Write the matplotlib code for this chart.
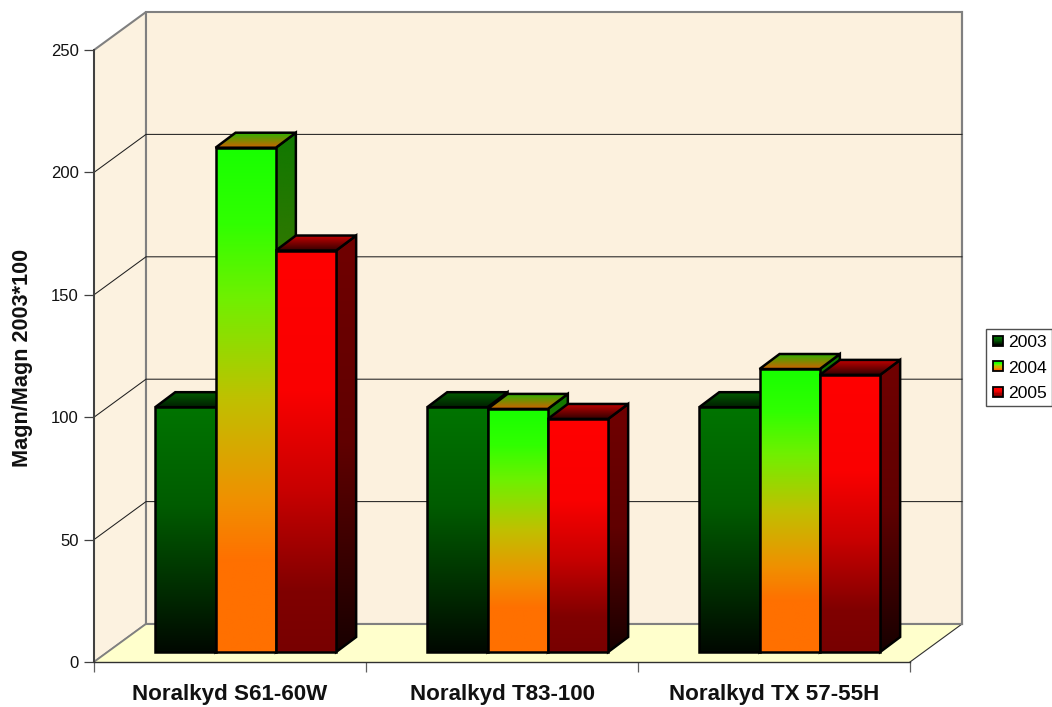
import numpy as np
import matplotlib
matplotlib.use("Agg")
import matplotlib.pyplot as plt
from matplotlib.colors import to_rgb
from matplotlib.patches import Polygon, Rectangle, Patch
from matplotlib.legend_handler import HandlerPatch

# ---- data ----
categories = ["Noralkyd S61-60W", "Noralkyd T83-100", "Noralkyd TX 57-55H"]
series_names = ["2003", "2004", "2005"]
values_2003 = [100, 100, 100]
values_2004 = [206, 99.3, 115.6]
values_2005 = [164, 95.2, 113.2]
y_ticks = [0, 50, 100, 150, 200, 250]
y_label = "Magn/Magn 2003*100"

# ---- style ----
plt.rcParams["font.family"] = ["Liberation Sans", "DejaVu Sans"]
W, H = 1052, 707
L, R, T, B = 94, 910, 50, 662
XU = (R - L) / 3.0
YU = (B - T) / 250.0
wall_dx, wall_dy = 52 / XU, 38 / YU
shift_dx, shift_dy = 15.7 / XU, 10 / YU
bar_dx, bar_dy = 20 / XU, 15 / YU
bar_w = 60.3 / XU
LW = 1.8

front_stops = {
    "2003": [(0, "#007400"), (.4, "#005C00"), (.75, "#002C00"), (1, "#000800")],
    "2004": [(0, "#18FF00"), (.15, "#30FF00"), (.3, "#70F000"), (.5, "#C0C000"),
             (.7, "#F09000"), (.82, "#FF7000"), (1, "#FF7000")],
    "2005": [(0, "#FF0000"), (.35, "#FA0000"), (.6, "#C80000"), (.85, "#800000"), (1, "#780000")],
}
side_stops = {
    "2003": [(0, "#003C00"), (1, "#000400")],
    "2004": [(0, "#107800"), (.3, "#387800"), (.6, "#806000"), (1, "#803800")],
    "2005": [(0, "#700000"), (.5, "#600000"), (1, "#180000")],
}
top_stops = {
    "2003": [(0, "#005C00"), (1, "#002000")],
    "2004": [(0, "#30B000"), (1, "#D06000")],
    "2005": [(0, "#C00000"), (1, "#300000")],
}


def gradient(stops, n=256):
    pos = [s[0] for s in stops]
    cols = np.array([to_rgb(s[1]) for s in stops])
    t = np.linspace(0, 1, n)
    return np.stack([np.interp(t, pos, cols[:, i]) for i in range(3)], axis=1)[:, None, :]


fig = plt.figure(figsize=(W / 100, H / 100), dpi=100, facecolor="white")
ax = fig.add_axes([L / W, 1 - B / H, (R - L) / W, (B - T) / H], facecolor="none")


def poly(pts, **kw):
    p = Polygon(pts, closed=True, clip_on=False, **kw)
    ax.add_patch(p)
    return p


def grad_face(pts, stops, zorder):
    pts = np.array(pts)
    im = ax.imshow(gradient(stops), aspect="auto", interpolation="bilinear", origin="upper",
                   extent=(pts[:, 0].min(), pts[:, 0].max(), pts[:, 1].min(), pts[:, 1].max()),
                   zorder=zorder)
    clip = Polygon(pts, closed=True, transform=ax.transData)
    im.set_clip_path(clip)
    poly(pts, fill=False, edgecolor="black", linewidth=LW, joinstyle="miter", zorder=zorder + 0.1)


# walls and floor
poly([(0, 0), (wall_dx, wall_dy), (wall_dx, 250 + wall_dy), (0, 250)],
     facecolor="#FCF2E0", edgecolor="#808080", linewidth=1.5, zorder=1)
poly([(wall_dx, wall_dy), (3 + wall_dx, wall_dy), (3 + wall_dx, 250 + wall_dy), (wall_dx, 250 + wall_dy)],
     facecolor="#FCF1DE", edgecolor="#808080", linewidth=1.5, zorder=1)
poly([(0, 0), (3, 0), (3 + wall_dx, wall_dy), (wall_dx, wall_dy)],
     facecolor="#FFFFCC", edgecolor="none", zorder=1.5)
ax.plot([3, 3 + wall_dx], [0, wall_dy], color="#303030", lw=0.8, clip_on=False, zorder=1.6)
ax.plot([0, wall_dx], [0, wall_dy], color="#808080", lw=1.2, clip_on=False, zorder=1.6)
ax.plot([wall_dx, 3 + wall_dx], [wall_dy, wall_dy], color="#808080", lw=1.5, clip_on=False, zorder=1.6)
ax.plot([3 + wall_dx, 3 + wall_dx], [wall_dy, 250 + wall_dy], color="#808080", lw=1.5, clip_on=False, zorder=1.6)

# gridlines
for v in y_ticks[1:-1]:
    ax.plot([0, wall_dx, 3 + wall_dx], [v, v + wall_dy, v + wall_dy],
            color="#202020", lw=0.75, clip_on=False, zorder=2)

# bars
all_values = [values_2003, values_2004, values_2005]
z = 3.0
for c in range(len(categories)):
    for s, name in enumerate(series_names):
        v = all_values[s][c]
        x0 = c + 0.5 + shift_dx + (s - 1.5) * bar_w
        x1 = x0 + bar_w
        y0 = shift_dy
        y1 = y0 + v
        grad_face([(x1, y0), (x1 + bar_dx, y0 + bar_dy), (x1 + bar_dx, y1 + bar_dy), (x1, y1)],
                  side_stops[name], z)
        grad_face([(x0, y1), (x1, y1), (x1 + bar_dx, y1 + bar_dy), (x0 + bar_dx, y1 + bar_dy)],
                  top_stops[name], z + 0.2)
        grad_face([(x0, y0), (x1, y0), (x1, y1), (x0, y1)], front_stops[name], z + 0.4)
        z += 1

# axes
ax.set_xlim(0, 3)
ax.set_ylim(0, 250)
for side in ("top", "right"):
    ax.spines[side].set_visible(False)
ax.spines["left"].set_color("#404040")
ax.spines["left"].set_linewidth(1.4)
ax.spines["bottom"].set_color("#303030")
ax.spines["bottom"].set_linewidth(1.0)
ax.spines["left"].set_zorder(50)
ax.spines["bottom"].set_zorder(50)
ax.set_yticks(y_ticks)
ax.set_yticklabels([str(t) for t in y_ticks], fontsize=12, color="#111111")
ax.tick_params(axis="y", length=7.2, width=0.9, color="#404040", pad=3.6)
ax.set_xticks([0, 1, 2, 3])
ax.set_xticklabels([])
ax.tick_params(axis="x", which="major", length=7.2, width=0.9, color="#606060")
ax.set_xticks([0.5, 1.5, 2.5], minor=True)
ax.set_xticklabels(categories, minor=True, fontsize=16.1, fontweight="bold", color="#111111")
ax.tick_params(axis="x", which="minor", length=0, pad=15.6)
ax.set_ylabel(y_label, fontsize=15.6, fontweight="bold", color="#111111")
ax.yaxis.set_label_coords((33 - L) / (R - L), (B - 358) / (B - T))


# legend with gradient swatches made of thin strips
class GradientHandler(HandlerPatch):
    def create_artists(self, legend, orig, xd, yd, width, height, fontsize, trans):
        side = 10.0 * 0.72
        x = xd * -1 + (width - side) / 2
        y = yd * -1 + (height - side) / 2
        g = gradient(front_stops[orig.get_label()], 8)[:, 0, :]
        arts = []
        n = len(g)
        for i, col in enumerate(g):
            arts.append(Rectangle((x, y + side * (n - 1 - i) / n), side, side / n + 0.05,
                                  facecolor=col, edgecolor="none", transform=trans))
        arts.append(Rectangle((x, y), side, side, fill=False, edgecolor="black", linewidth=1.3, transform=trans))
        return arts


handles = [Patch(label=n) for n in series_names]
leg = fig.legend(handles=handles, loc="upper left",
                 bbox_to_anchor=(986 / W, 1 - 329 / H), bbox_transform=fig.transFigure,
                 handler_map={Patch: GradientHandler()}, fontsize=12.6, frameon=True, fancybox=False,
                 edgecolor="#505050", framealpha=1, borderaxespad=0, borderpad=0.29,
                 handlelength=0.8, handleheight=0.8, handletextpad=0.17, labelspacing=0.565)
leg.get_frame().set_linewidth(1.0)

fig.savefig("out.png", dpi=100, facecolor="white")
